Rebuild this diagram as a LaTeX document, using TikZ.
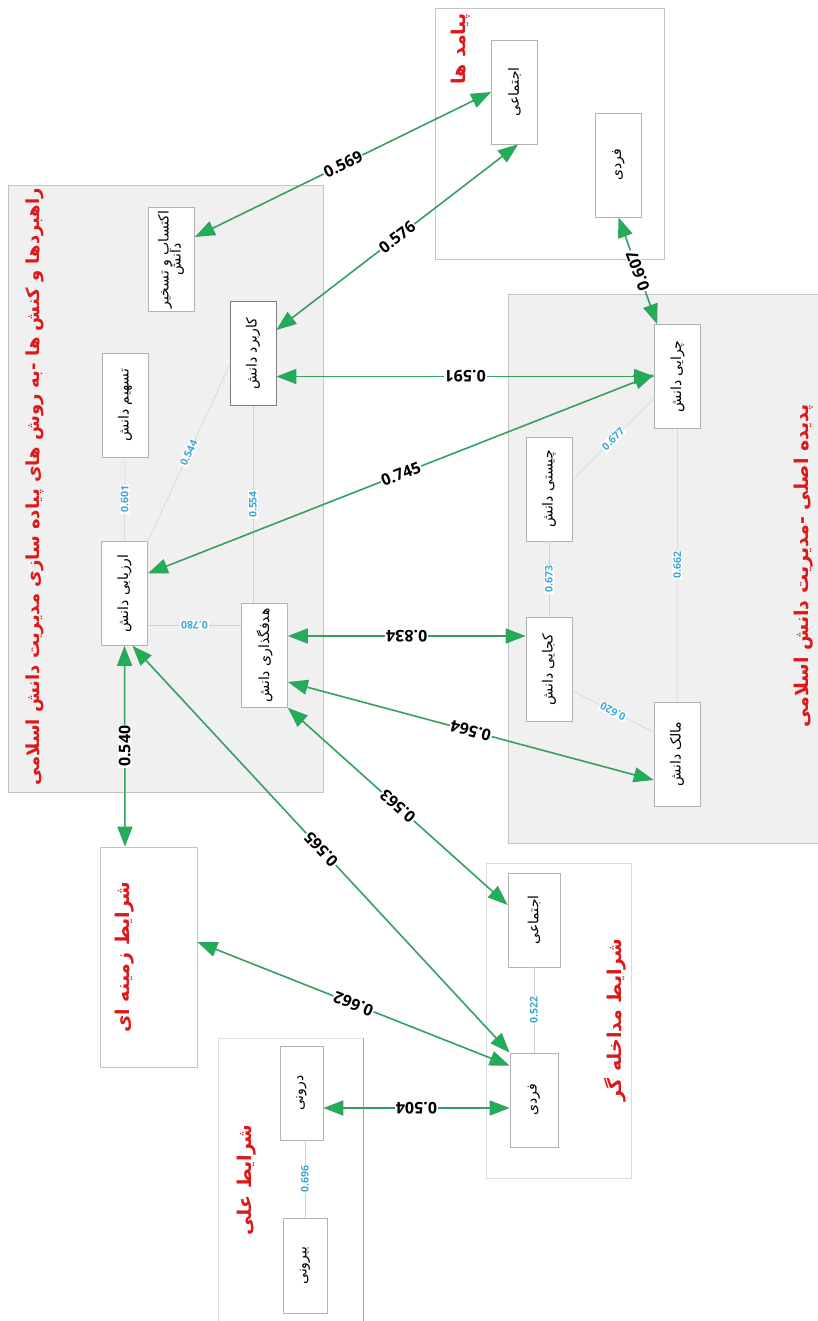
\documentclass[tikz,border=0pt]{standalone}
\usepackage{fontspec}
\setmainfont{Open Sans}
\newfontfamily\farsi[Script=Arabic]{DejaVu Sans}
\TeXXeTstate=1
\usepackage{graphicx}
\usetikzlibrary{arrows.meta}
\definecolor{pathgreen}{RGB}{52,160,98}
\definecolor{tipgreen}{RGB}{28,178,82}
\definecolor{titlered}{RGB}{222,24,24}
\definecolor{coefblue}{RGB}{62,168,214}
\definecolor{panelgray}{RGB}{240,240,240}
\definecolor{edgegray}{RGB}{196,196,196}
\definecolor{linkgray}{RGB}{200,212,220}
\newcommand{\fa}[1]{{\farsi\beginR #1\endR}}
\newcommand{\vfa}[1]{\rotatebox{90}{\fa{#1}}}

\begin{document}
\begin{tikzpicture}[x=1pt,y=-1pt,
  panel/.style={draw=edgegray,line width=0.8pt},
  construct/.style={draw=gray!60,fill=white,line width=0.7pt,inner sep=0pt,
    minimum width=46pt,minimum height=104pt,font=\farsi\fontsize{14}{15}\selectfont},
  heading/.style={text=titlered,rotate=90,inner sep=0pt,font=\farsi\bfseries\fontsize{19}{22}\selectfont},
  relation/.style={draw=pathgreen,line width=1.6pt,
    {Triangle[length=20pt,width=15pt,fill=tipgreen]}-{Triangle[length=20pt,width=15pt,fill=tipgreen]}},
  coef/.style={midway,sloped,allow upside down,fill=white,inner sep=1pt,
    font=\bfseries\fontsize{16}{16}\selectfont},
  weak/.style={draw=linkgray,line width=0.5pt},
  weight/.style={midway,sloped,allow upside down,fill=white,inner sep=1pt,text=coefblue,
    font=\bfseries\fontsize{10.5}{11}\selectfont}]
  \useasboundingbox (0,0) rectangle (818,1321);
  \clip (0,0) rectangle (818,1321);

  \draw[panel,fill=panelgray] (8,185) rectangle (323,792);
  \draw[panel,fill=panelgray] (508,294) rectangle (830,843);
  \draw[panel,fill=white] (435,8) rectangle (664,259);
  \draw[panel,draw=edgegray!60,fill=white] (486,863) rectangle (631,1178);
  \draw[panel,draw=edgegray!50] (218,1038) rectangle (363,1330);
  \draw[gray!70,line width=0.8pt] (363,1038) -- (363,1321);

  \node[heading,font=\farsi\bfseries\fontsize{18}{22}\selectfont] (tStrat) at (35,487) {\fa{راهبردها و کنش ها -به روش های پیاده سازی مدیریت دانش اسلامی}};
  \node[heading] (tCore) at (804,566) {\fa{پدیده اصلی -مدیریت دانش اسلامی}};
  \node[heading] (tOut) at (461,49) {\fa{پیامد ها}};
  \node[heading] (tInt) at (615,1020) {\fa{شرایط مداخله گر}};
  \node[heading] (tCause) at (247,1180) {\fa{شرایط علی}};
  \node[construct,minimum width=97pt,minimum height=220pt,draw=edgegray] (ctx) at (148.5,957) {};
  \node[heading] (tCtx) at (125,957) {\fa{شرایط زمینه ای}};

  \node[construct] (akt) at (171.5,259.5) {\rotatebox{90}{\begin{tabular}{@{}c@{}}\fa{اکتساب و تسخیر}\\[-3pt]\fa{دانش}\end{tabular}}};
  \node[construct,draw=gray] (kar) at (253,353.5) {\vfa{کاربرد دانش}};
  \node[construct] (tas) at (125,405) {\vfa{تسهیم دانش}};
  \node[construct] (arz) at (124.5,593.5) {\vfa{ارزیابی دانش}};
  \node[construct] (hed) at (264.5,655.5) {\vfa{هدفگذاری دانش}};
  \node[construct] (chr) at (677.5,376.5) {\vfa{چرایی دانش}};
  \node[construct] (chi) at (549,489) {\vfa{چیستی دانش}};
  \node[construct] (koj) at (549,669.5) {\vfa{کجایی دانش}};
  \node[construct] (mal) at (677,754) {\vfa{مالک دانش}};
  \node[construct] (pej) at (514.5,92) {\vfa{اجتماعی}};
  \node[construct] (pef) at (618.5,165) {\vfa{فردی}};
  \node[construct,minimum width=52pt,minimum height=94pt] (mej) at (534,920) {\vfa{اجتماعی}};
  \node[construct,minimum width=48pt,minimum height=94pt] (mef) at (534,1100) {\vfa{فردی}};
  \node[construct,minimum width=43pt,minimum height=94pt] (dar) at (301.5,1093) {\vfa{درونی}};
  \node[construct,minimum width=44pt,minimum height=95pt] (bir) at (305,1265.5) {\vfa{بیرونی}};

  \draw[weak] (arz.north) -- node[weight] {0.601} (tas.south);
  \draw[weak] (arz.north east) -- node[weight] {0.544} ([yshift=-11.5pt]kar.west);
  \draw[weak] ([xshift=-11.5pt]hed.north) -- node[weight] {0.554} (kar.south);
  \draw[weak] ([yshift=30.5pt]hed.west) -- node[weight] {0.780} ([yshift=-31.5pt]arz.east);
  \draw[weak] ([yshift=9pt]chi.east) -- node[weight] {0.677} ([yshift=-21.5pt]chr.west);
  \draw[weak] (koj.north) -- node[weight] {0.673} (chi.south);
  \draw[weak] (mal.north) -- node[weight] {0.662} (chr.south);
  \draw[weak] ([yshift=22pt]mal.west) -- node[weight] {0.620} ([yshift=-21.5pt]koj.east);
  \draw[weak] (mef.north) -- node[weight] {0.522} (mej.south);
  \draw[weak] (bir.north) -- node[weight] {0.696} ([xshift=3.5pt]dar.south);

  \draw[relation] ([yshift=22.5pt]akt.east) -- node[coef] {0.569} (pej.west);
  \draw[relation] ([yshift=23.5pt]kar.east) -- node[coef] {0.576} ([xshift=3.5pt]pej.south);
  \draw[relation] ([xshift=3pt]chr.north west) -- node[coef] {0.607} (pef.south);
  \draw[relation] (chr.west) -- node[coef] {0.591} ([yshift=-23pt]kar.east);
  \draw[relation] ([yshift=20pt]arz.east) -- node[coef] {0.745} ([yshift=2pt]chr.west);
  \draw[relation] ([yshift=33.5pt]koj.west) -- node[coef] {0.834} ([yshift=19.5pt]hed.east);
  \draw[relation] ([yshift=-26pt]mal.west) -- node[coef] {0.564} ([yshift=-26.5pt]hed.east);
  \draw[relation] ([xshift=-23.5pt]ctx.north) -- node[coef] {0.540} (arz.south);
  \draw[relation] (mef.north west) -- node[coef] {0.565} ([xshift=8pt]arz.south);
  \draw[relation] ([yshift=15pt]mej.west) -- node[coef] {0.563} (hed.south east);
  \draw[relation] ([yshift=-13pt]mef.north west) -- node[coef] {0.662} ([yshift=15pt]ctx.east);
  \draw[relation] ([yshift=-8pt]mef.west) -- node[coef] {0.504} ([yshift=-15pt]dar.east);
\end{tikzpicture}
\end{document}
